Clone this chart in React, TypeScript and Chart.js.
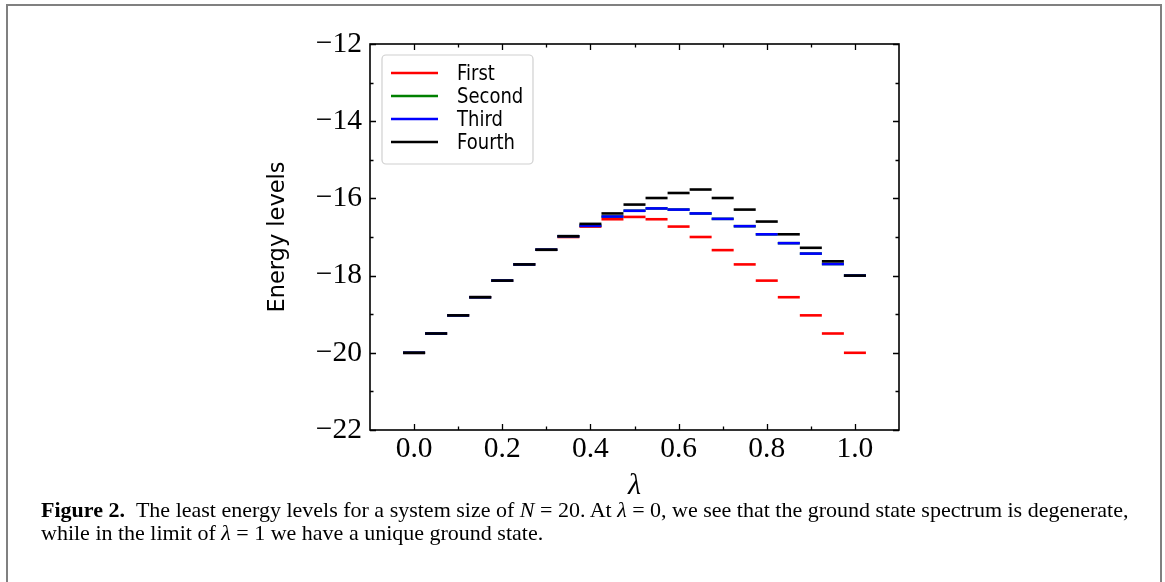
import React, { useEffect, useRef } from 'react';
import { Chart, registerables } from 'chart.js';

Chart.register(...registerables);

const lambdaValues = [0, 0.05, 0.1, 0.15, 0.2, 0.25, 0.3, 0.35, 0.4, 0.45, 0.5, 0.55, 0.6, 0.65, 0.7, 0.75, 0.8, 0.85, 0.9, 0.95, 1.0];
const firstLevel = [-20.0, -19.5, -19.03, -18.56, -18.13, -17.71, -17.33, -17.0, -16.73, -16.54, -16.48, -16.54, -16.73, -17.0, -17.34, -17.71, -18.13, -18.56, -19.03, -19.5, -20.0];
const secondLevel = [-20.0, -19.5, -19.03, -18.56, -18.13, -17.71, -17.33, -16.98, -16.71, -16.47, -16.32, -16.26, -16.29, -16.39, -16.53, -16.72, -16.93, -17.16, -17.43, -17.7, -18.0];
const thirdLevel = [-20.0, -19.5, -19.03, -18.56, -18.13, -17.71, -17.33, -16.98, -16.71, -16.47, -16.32, -16.26, -16.29, -16.39, -16.53, -16.72, -16.93, -17.16, -17.43, -17.7, -18.0];
const fourthLevel = [-20.0, -19.5, -19.03, -18.56, -18.13, -17.71, -17.33, -16.98, -16.66, -16.39, -16.16, -15.99, -15.86, -15.77, -15.99, -16.29, -16.6, -16.93, -17.28, -17.63, -18.0];

const seriesNames = ['First', 'Second', 'Third', 'Fourth'];
const seriesColors = ['#ff0000', '#008000', '#0000ff', '#000000'];

const xTickValues = [0, 0.2, 0.4, 0.6, 0.8, 1.0];
const xMinorTickValues = [0.1, 0.3, 0.5, 0.7, 0.9];
const yTickValues = [-22, -20, -18, -16, -14, -12];
const yMinorTickValues = [-21, -19, -17, -15, -13];

const xAxisTitle = 'λ';
const yAxisTitle = 'Energy levels';

const framePlugin = {
  id: 'framePlugin',
  afterDraw(chart: any) {
    const ctx = chart.ctx;
    const { left, right, top, bottom } = chart.chartArea;
    const xs = chart.scales.x;
    const ys = chart.scales.y;
    ctx.save();
    ctx.strokeStyle = '#000';
    ctx.lineWidth = 1.3;
    const drawTickX = (v: number, len: number) => {
      const px = Math.round(xs.getPixelForValue(v)) + 0.5;
      ctx.beginPath();
      ctx.moveTo(px, bottom);
      ctx.lineTo(px, bottom - len);
      ctx.moveTo(px, top);
      ctx.lineTo(px, top + len);
      ctx.stroke();
    };
    const drawTickY = (v: number, len: number) => {
      const py = Math.round(ys.getPixelForValue(v)) + 0.5;
      ctx.beginPath();
      ctx.moveTo(left, py);
      ctx.lineTo(left + len, py);
      ctx.moveTo(right, py);
      ctx.lineTo(right - len, py);
      ctx.stroke();
    };
    xTickValues.forEach((v) => drawTickX(v, 6));
    xMinorTickValues.forEach((v) => drawTickX(v, 3.5));
    yTickValues.forEach((v) => drawTickY(v, 6));
    yMinorTickValues.forEach((v) => drawTickY(v, 3.5));
    ctx.lineWidth = 1.6;
    ctx.strokeRect(left, top, right - left, bottom - top);

    // legend
    const bx = left + 12;
    const by = top + 11;
    const bw = 151;
    const bh = 109;
    const r = 4;
    ctx.beginPath();
    ctx.moveTo(bx + r, by);
    ctx.lineTo(bx + bw - r, by);
    ctx.arcTo(bx + bw, by, bx + bw, by + r, r);
    ctx.lineTo(bx + bw, by + bh - r);
    ctx.arcTo(bx + bw, by + bh, bx + bw - r, by + bh, r);
    ctx.lineTo(bx + r, by + bh);
    ctx.arcTo(bx, by + bh, bx, by + bh - r, r);
    ctx.lineTo(bx, by + r);
    ctx.arcTo(bx, by, bx + r, by, r);
    ctx.closePath();
    ctx.fillStyle = 'rgba(255,255,255,0.85)';
    ctx.fill();
    ctx.strokeStyle = '#d0d0d0';
    ctx.lineWidth = 1.2;
    ctx.stroke();
    seriesNames.forEach((name, i) => {
      const ry = by + 18 + i * 23;
      ctx.strokeStyle = seriesColors[i];
      ctx.lineWidth = 2.6;
      ctx.beginPath();
      ctx.moveTo(bx + 9, ry);
      ctx.lineTo(bx + 56, ry);
      ctx.stroke();
      ctx.save();
      ctx.translate(bx + 75, ry + 1);
      ctx.scale(1, 1.2);
      ctx.fillStyle = '#000';
      ctx.font = '18px "DejaVu Sans"';
      ctx.textBaseline = 'middle';
      ctx.textAlign = 'left';
      ctx.fillText(name, 0, 0);
      ctx.restore();
    });
    ctx.restore();
  },
};

export default function App() {
  const canvasRef = useRef<HTMLCanvasElement | null>(null);

  useEffect(() => {
    document.body.style.margin = '0';
    const canvas = canvasRef.current;
    if (!canvas) return;
    const levels = [firstLevel, secondLevel, thirdLevel, fourthLevel];
    const chart = new Chart(canvas, {
      type: 'scatter',
      data: {
        datasets: levels.map((vals, i) => ({
          label: seriesNames[i],
          data: lambdaValues.map((x, j) => ({ x, y: vals[j] })),
          pointStyle: 'line',
          pointRadius: 11,
          pointHoverRadius: 11,
          pointBorderWidth: 2.6,
          pointHoverBorderWidth: 2.6,
          borderColor: seriesColors[i],
          backgroundColor: seriesColors[i],
          showLine: false,
          order: 4 - i,
        })),
      },
      options: {
        animation: false,
        responsive: false,
        maintainAspectRatio: false,
        events: [],
        layout: { padding: { left: 265, right: 266, top: 44, bottom: 0 } },
        plugins: {
          legend: { display: false },
          tooltip: { enabled: false },
        },
        scales: {
          x: {
            type: 'linear',
            min: -0.1,
            max: 1.1,
            afterBuildTicks: (s: any) => {
              s.ticks = xTickValues.map((v) => ({ value: v }));
            },
            afterFit: (s: any) => {
              s.height = 74;
            },
            grid: { display: false, drawTicks: false },
            border: { display: false },
            ticks: {
              font: { family: '"Liberation Serif"', size: 29.5 },
              color: '#000',
              padding: 2,
              maxRotation: 0,
              autoSkip: false,
              callback: (v: any) => Number(v).toFixed(1),
            },
            title: {
              display: true,
              text: xAxisTitle,
              color: '#000',
              font: { family: '"Liberation Serif"', size: 30, style: 'italic' },
              padding: { top: 0, bottom: 0 },
            },
          },
          y: {
            type: 'linear',
            min: -22,
            max: -12,
            afterBuildTicks: (s: any) => {
              s.ticks = yTickValues.map((v) => ({ value: v }));
            },
            afterFit: (s: any) => {
              s.width = 105;
            },
            grid: { display: false, drawTicks: false },
            border: { display: false },
            ticks: {
              font: { family: '"Liberation Serif"', size: 29.5 },
              color: '#000',
              padding: 8,
              autoSkip: false,
              callback: (v: any) => (Number(v) < 0 ? '\u2212' + Math.abs(Number(v)) : String(v)),
            },
            title: {
              display: true,
              text: yAxisTitle,
              color: '#000',
              font: { family: '"DejaVu Sans"', size: 22.5 },
              padding: { top: 0, bottom: 0 },
            },
          },
        },
      },
      plugins: [framePlugin],
    } as any);
    return () => chart.destroy();
  }, []);

  return (
    <div style={{ position: 'relative', width: 1165, height: 582, overflow: 'hidden', background: '#fff' }}>
      <div
        style={{
          position: 'absolute',
          left: 6,
          top: 4,
          width: 1156,
          height: 600,
          boxSizing: 'border-box',
          border: '2px solid #808080',
          borderBottom: 'none',
        }}
      />
      <canvas
        ref={canvasRef}
        width={1165}
        height={504}
        style={{ position: 'absolute', left: 0, top: 0, width: 1165, height: 504 }}
      />
      <div
        style={{
          position: 'absolute',
          left: 41,
          top: 498,
          fontFamily: '"Liberation Serif", serif',
          fontSize: 22,
          lineHeight: '23px',
          color: '#000',
          whiteSpace: 'nowrap',
        }}
      >
        <div>
          <b>Figure 2.</b>&nbsp;&nbsp;The least energy levels for a system size of <i>N</i> = 20. At <i>λ</i> = 0, we see
          that the ground state spectrum is degenerate,
        </div>
        <div>
          while in the limit of <i>λ</i> = 1 we have a unique ground state.
        </div>
      </div>
    </div>
  );
}
